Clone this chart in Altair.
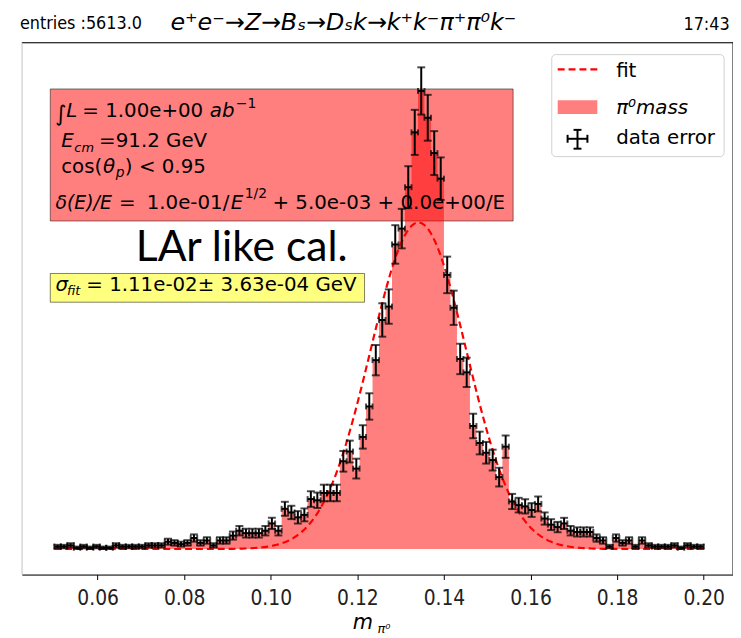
import numpy as np
import pandas as pd
import altair as alt

# ---------------- data ----------------
BIN_LO, BIN_HI, N_BINS = 0.05, 0.20, 100
COUNTS = [2, 2, 3, 1, 2, 1, 2, 1, 1, 3,
          2, 2, 2, 2, 3, 3, 3, 6, 5, 4,
          5, 9, 5, 7, 3, 7, 7, 11, 15, 13,
          13, 13, 15, 21, 15, 33, 30, 26, 28, 41,
          40, 46, 46, 46, 72, 80, 66, 92, 117, 155,
          188, 199, 250, 263, 297, 342, 376, 354, 325, 304,
          225, 198, 156, 145, 101, 87, 79, 73, 59, 84,
          39, 36, 35, 32, 37, 25, 20, 18, 21, 15,
          14, 14, 14, 9, 7, 2, 9, 5, 7, 2,
          7, 3, 2, 2, 2, 3, 1, 3, 2, 2]
FIT_AMP, FIT_MU, FIT_SIGMA = 268.0, 0.1341, 0.0111
X_TICKS = [0.06, 0.08, 0.10, 0.12, 0.14, 0.16, 0.18, 0.20]

edges = np.linspace(BIN_LO, BIN_HI, N_BINS + 1)
cnt = np.array(COUNTS, dtype=float)
err = np.sqrt(cnt)
bins = pd.DataFrame({
    "lo_e": edges[:-1], "hi_e": edges[1:],
    "c": (edges[:-1] + edges[1:]) / 2,
    "n": cnt, "lo": cnt - err, "hi": cnt + err,
})
step = pd.DataFrame({"x": edges, "n": list(cnt) + [cnt[-1]]})
fx = np.linspace(BIN_LO, BIN_HI, 400)
fit = pd.DataFrame({"x": fx, "y": FIT_AMP * np.exp(-0.5 * ((fx - FIT_MU) / FIT_SIGMA) ** 2)})

W, H = 718, 537
XS = alt.Scale(domain=[0.0425, 0.0425 + W / 4371.0], nice=False, zero=False)
YS = alt.Scale(domain=[-21, 415.6], nice=False, zero=False)
XAX = alt.Axis(values=X_TICKS, format=".2f", title=None, grid=False, tickSize=5,
               tickColor="black", tickWidth=1, domain=True, domainColor="black",
               labelFont="DejaVu Sans Condensed", labelFontSize=21, labelColor="#222",
               labelPadding=8)

def X(f):
    return alt.X(f, type="quantitative", scale=XS, axis=XAX)

def Y(f):
    return alt.Y(f, type="quantitative", scale=YS, axis=None)

ONE = pd.DataFrame({"k": [0]})

def txt(s, x, y, size=20, style="normal", color="black", font="DejaVu Sans"):
    return alt.Chart(ONE).mark_text(text=s, align="left", baseline="alphabetic",
                                    fontSize=size, fontStyle=style, font=font,
                                    color=color).encode(x=alt.value(x), y=alt.value(y))

def rect(x, x2, y, y2, **kw):
    return alt.Chart(ONE).mark_rect(**kw).encode(
        x=alt.value(x), x2=alt.value(x2), y=alt.value(y), y2=alt.value(y2))

def rule(x, x2, y, y2, **kw):
    return alt.Chart(ONE).mark_rule(**kw).encode(
        x=alt.value(x), x2=alt.value(x2), y=alt.value(y), y2=alt.value(y2))

# boxes behind data
red_box = rect(28.7, 496, 46.7, 180, fill="#ff0000", fillOpacity=0.5,
               stroke="#000000", strokeOpacity=0.5, strokeWidth=1)
yel_box = rect(28.7, 346, 233, 262, fill="#ffff00", fillOpacity=0.5,
               stroke="#000000", strokeOpacity=0.5, strokeWidth=1)

hist = alt.Chart(step).mark_area(interpolate="step-after", color="#ff0000", opacity=0.5).encode(
    x=X("x"), y=alt.Y("n:Q", scale=YS, axis=None, stack=None), y2=alt.datum(0))

fit_line = alt.Chart(fit).mark_line(color="#ff0000", strokeDash=[7, 4], strokeWidth=2.2).encode(
    x=X("x"), y=Y("y"))

LW = 2.0
ev = alt.Chart(bins).mark_rule(color="black", strokeWidth=LW).encode(x=X("c"), y=Y("lo"), y2="hi")
eh = alt.Chart(bins).mark_rule(color="black", strokeWidth=LW).encode(x=X("lo_e"), x2="hi_e", y=Y("n"))
cap_t = alt.Chart(bins).mark_tick(orient="horizontal", size=8, thickness=LW, color="black").encode(x=X("c"), y=Y("hi"))
cap_b = alt.Chart(bins).mark_tick(orient="horizontal", size=8, thickness=LW, color="black").encode(x=X("c"), y=Y("lo"))
cap_l = alt.Chart(bins).mark_tick(orient="vertical", size=6, thickness=LW, color="black").encode(x=X("lo_e"), y=Y("n"))
cap_r = alt.Chart(bins).mark_tick(orient="vertical", size=6, thickness=LW, color="black").encode(x=X("hi_e"), y=Y("n"))

# spines
spines = [
    rule(0, W, 0, 0, color="black", strokeWidth=1),
    rule(W, W, 0, H, color="black", strokeWidth=1),
    rule(0, 0, 0, H, color="#d8d8d8", strokeWidth=1),
]

# text in red box
box_txt = [
    txt("∫", 33.5, 79, 22),
    txt("L", 44.7, 75, 20, "italic"),
    txt("= 1.00e+00", 61, 75, 20),
    txt("ab", 189.7, 75, 20, "italic"),
    txt("−1", 216, 66, 14),
    txt("E", 39.7, 105, 20, "italic"),
    txt("cm", 53, 110, 13, "italic"),
    txt("=91.2 GeV", 78, 105, 20),
    txt("cos(", 39.7, 131.7, 20),
    txt("θ", 82, 131.7, 20, "italic"),
    txt("p", 94.7, 136, 14, "italic"),
    txt(") < 0.95", 104, 131.7, 20),
    txt("δ(E)/E", 34, 168, 19, "italic"),
    txt("=", 98, 168, 20),
    txt("1.0e-01/", 126, 168, 20),
    txt("E", 211, 168, 20, "italic"),
    txt("1/2", 225, 157, 14),
    txt("+ 5.0e-03 + 0.0e+00/E", 253, 168, 20),
]
yel_txt = [
    txt("σ", 34, 251, 20, "italic"),
    txt("fit", 45.5, 255, 13, "italic"),
    txt("= 1.11e-02± 3.63e-04 GeV", 65, 251, 20),
]
lar = txt("LAr like cal.", 115, 220, 43, font="Lato")

# legend
legend = [
    rect(535, 709, 12, 115, fill="white", stroke="#cccccc", strokeWidth=1, cornerRadius=4, opacity=0.9),
    rule(541, 581, 27, 27, color="#ff0000", strokeDash=[7, 4], strokeWidth=2.2),
    rect(541, 581, 58, 72, fill="#ff0000", fillOpacity=0.5),
    rule(561, 561, 88, 107, color="black", strokeWidth=LW),
    rule(551, 571, 97, 97, color="black", strokeWidth=LW),
    rule(557, 565, 88, 88, color="black", strokeWidth=LW),
    rule(557, 565, 107, 107, color="black", strokeWidth=LW),
    rule(551, 551, 93, 101, color="black", strokeWidth=LW),
    rule(571, 571, 93, 101, color="black", strokeWidth=LW),
    txt("fit", 600, 35, 20),
    txt("π⁰mass", 600, 72, 20, "italic"),
    txt("data error", 600, 102, 20),
]

# titles and axis title
tops = [
    txt("entries :5613.0", -2, -14, 18, font="DejaVu Sans Condensed"),
    txt("e⁺e⁻→Z→Bₛ→Dₛk→k⁺k⁻π⁺π⁰k⁻", 150, -13, 24, "italic"),
    txt("17:43", 668, -13, 18, font="DejaVu Sans Condensed"),
    txt("m", 334, 592, 21, "italic"),
    txt("π⁰", 359, 596, 13, "italic"),
]

chart = alt.layer(
    red_box, yel_box, hist, fit_line, ev, eh, cap_t, cap_b, cap_l, cap_r,
    *spines, *box_txt, *yel_txt, lar, *legend, *tops
).properties(
    width=W, height=H,
    autosize=alt.AutoSizeParams(type="none"),
    padding={"left": 14, "top": 32, "right": 0, "bottom": 62},
).configure_view(stroke=None).configure(background="white")

chart.save("out.html", embed_options={"renderer": "svg", "actions": False})
